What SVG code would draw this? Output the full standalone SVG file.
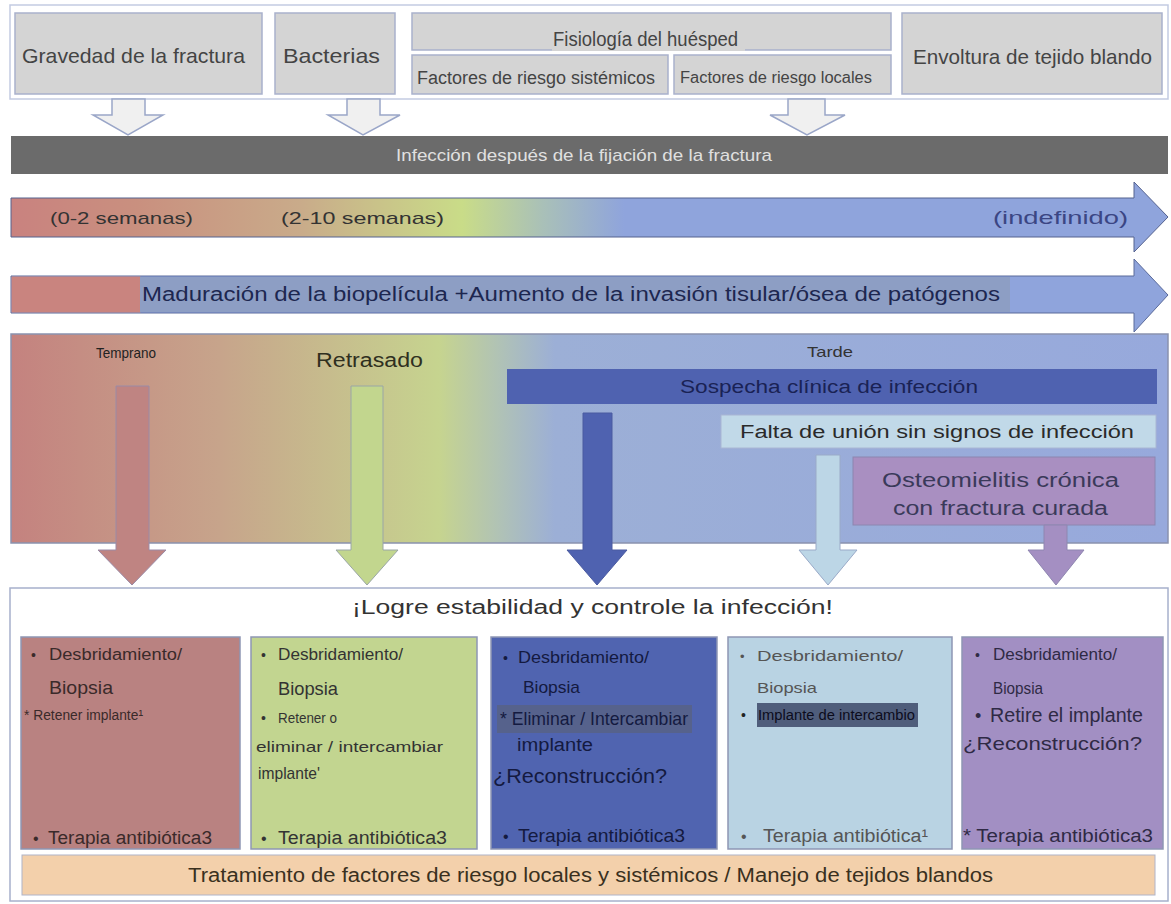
<svg xmlns="http://www.w3.org/2000/svg" width="1171" height="904" viewBox="0 0 1171 904">
<defs>
<linearGradient id="gArrow1" x1="0" y1="0" x2="1" y2="0">
<stop offset="0" stop-color="#c9827f"/>
<stop offset="0.11" stop-color="#c9907f"/>
<stop offset="0.25" stop-color="#c9ab8a"/>
<stop offset="0.39" stop-color="#c9dc88"/>
<stop offset="0.46" stop-color="#a9c0b8"/>
<stop offset="0.53" stop-color="#8fa4dc"/>
<stop offset="1" stop-color="#8fa4dc"/>
</linearGradient>
<linearGradient id="gPanel" x1="0" y1="0" x2="1" y2="0">
<stop offset="0" stop-color="#c4827f"/>
<stop offset="0.18" stop-color="#c7a48b"/>
<stop offset="0.37" stop-color="#c6d48f"/>
<stop offset="0.42" stop-color="#b1c3b4"/>
<stop offset="0.47" stop-color="#9cafd6"/>
<stop offset="1" stop-color="#97a9dc"/>
</linearGradient>
<style>
.gbox{fill:#d4d4d4;stroke:#a9b1cc;stroke-width:1.5}
.wa{fill:#f0f0f0;stroke:#9aa6c8;stroke-width:1.5}
.t{font-family:"Liberation Sans",Arial,sans-serif;fill:#3a3a3a}
.box{stroke:#8e96b4;stroke-width:1.5}
</style>
</defs>

<g id="top-container">
<rect x="10" y="5" width="1158" height="94" fill="#ffffff" stroke="#c3cbe2" stroke-width="1.5"/>
</g>
<g id="node-gravedad">
<rect class="gbox" x="15" y="13" width="247" height="81"/>
<text class="t" x="22" y="63" font-size="21" textLength="223" lengthAdjust="spacingAndGlyphs" style="fill:#444">Gravedad de la fractura</text>
</g>
<g id="node-bacterias">
<rect class="gbox" x="275" y="13" width="120" height="81"/>
<text class="t" x="283" y="63" font-size="21" textLength="97" lengthAdjust="spacingAndGlyphs" style="fill:#444">Bacterias</text>
</g>
<g id="node-fisiologia">
<rect class="gbox" x="412" y="13" width="479" height="37"/>
<rect x="552" y="30" width="193" height="21" fill="#d4d4d4"/>
<text class="t" x="553" y="46" font-size="20" textLength="185" lengthAdjust="spacingAndGlyphs" style="fill:#444">Fisiología del huésped</text>
</g>
<g id="node-sistemicos">
<rect class="gbox" x="412" y="55" width="256" height="39"/>
<text class="t" x="417" y="84" font-size="18" textLength="238" lengthAdjust="spacingAndGlyphs" style="fill:#444">Factores de riesgo sistémicos</text>
</g>
<g id="node-locales">
<rect class="gbox" x="674" y="55" width="217" height="39"/>
<text class="t" x="680" y="83" font-size="16" textLength="192" lengthAdjust="spacingAndGlyphs" style="fill:#444">Factores de riesgo locales</text>
</g>
<g id="node-envoltura">
<rect class="gbox" x="902" y="13" width="260" height="81"/>
<text class="t" x="913" y="64" font-size="21" textLength="239" lengthAdjust="spacingAndGlyphs" style="fill:#444">Envoltura de tejido blando</text>
</g>

<g id="node-infeccion">
<rect x="11" y="136" width="1157" height="38" fill="#6b6b6b"/>
<text class="t" x="396" y="161" font-size="17" textLength="376" lengthAdjust="spacingAndGlyphs" style="fill:#e0e0e0">Infección después de la fijación de la fractura</text>
</g>

<g id="node-timeline">
<path d="M11,198 H1134 V182 L1168,217 L1134,252 V237 H11 Z" fill="url(#gArrow1)" stroke="#55628f" stroke-width="1"/>
<text class="t" x="50" y="224" font-size="17" textLength="143" lengthAdjust="spacingAndGlyphs" style="fill:#333">(0-2 semanas)</text>
<text class="t" x="281" y="224" font-size="17" textLength="163" lengthAdjust="spacingAndGlyphs" style="fill:#333">(2-10 semanas)</text>
<text class="t" x="993" y="224" font-size="18.5" textLength="135" lengthAdjust="spacingAndGlyphs" style="fill:#3b4684">(indefinido)</text>
</g>

<g id="node-maduracion">
<path d="M11,276 H1134 V259 L1168,295 L1134,332 V313 H11 Z" fill="#8fa4dc" stroke="#5a6a9a" stroke-width="1"/>
<rect x="11.5" y="276.5" width="129" height="36" fill="#c9847f"/>
<rect x="140" y="277" width="870" height="35" fill="#8d9ec4"/>
<text class="t" x="142" y="301" font-size="20" textLength="858" lengthAdjust="spacingAndGlyphs" style="fill:#1d2750">Maduración de la biopelícula +Aumento de la invasión tisular/ósea de patógenos</text>
</g>

<g id="node-panel">
<rect x="11" y="334" width="1157" height="209" fill="url(#gPanel)" stroke="#8a92ae" stroke-width="1.5"/>
<text class="t" x="96" y="358" font-size="15" textLength="60" lengthAdjust="spacingAndGlyphs" style="fill:#222">Temprano</text>
<text class="t" x="316" y="367" font-size="20" textLength="107" lengthAdjust="spacingAndGlyphs" style="fill:#2f2f1f">Retrasado</text>
<text class="t" x="807" y="357" font-size="15" textLength="46" lengthAdjust="spacingAndGlyphs" style="fill:#333">Tarde</text>
</g>
<g id="node-sospecha">
<rect x="507" y="369" width="650" height="35" fill="#4f62b0"/>
<text class="t" x="680" y="393" font-size="18" textLength="298" lengthAdjust="spacingAndGlyphs" style="fill:#1a2255">Sospecha clínica de infección</text>
</g>
<g id="node-falta">
<rect x="721" y="415" width="435" height="33" fill="#c1d9e8" stroke="#a9b6d4" stroke-width="1"/>
<text class="t" x="740" y="438" font-size="18" textLength="394" lengthAdjust="spacingAndGlyphs" style="fill:#2a2a2a">Falta de unión sin signos de infección</text>
</g>
<g id="node-osteomielitis">
<rect x="853" y="457" width="302" height="68" fill="#a98fc1" stroke="#8c86b0" stroke-width="1"/>
<text class="t" x="882" y="487" font-size="20" textLength="237" lengthAdjust="spacingAndGlyphs" style="fill:#3a3a5a">Osteomielitis crónica</text>
<text class="t" x="893" y="515" font-size="20" textLength="215" lengthAdjust="spacingAndGlyphs" style="fill:#3a3a5a">con fractura curada</text>
</g>

<g id="bottom-container">
<rect x="10" y="588" width="1158" height="313" fill="#ffffff" stroke="#a7b0cc" stroke-width="1.5"/>
<text class="t" x="352" y="614" font-size="20" textLength="481" lengthAdjust="spacingAndGlyphs" style="fill:#333">¡Logre estabilidad y controle la infección!</text>
</g>

<g id="connectors">
<path class="wa" d="M112,99 H145 V115 H163 L128,135 L93,115 H112 Z"/>
<path class="wa" d="M347,99 H380 V115 H400 L363,135 L328,115 H347 Z"/>
<path class="wa" d="M788,99 H825 V115 H845 L807,135 L770,115 H788 Z"/>
<path d="M116,386 H149 V550 H166 L132,585 L98,550 H116 Z" fill="#bf8482" stroke="#9a8aa6" stroke-width="1"/>
<path d="M351,386 H383 V550 H398 L367,585 L336,550 H351 Z" fill="#c2d68e" stroke="#9aa6a6" stroke-width="1"/>
<path d="M583,413 H612 V550 H627 L597,585 L567,550 H583 Z" fill="#4f62b0" stroke="#4a5aa0" stroke-width="1"/>
<path d="M816,455 H840 V550 H857 L828,585 L799,550 H816 Z" fill="#bcd6e6" stroke="#9aaac8" stroke-width="1"/>
<path d="M1044,525 H1067 V550 H1084 L1056,585 L1028,550 H1044 Z" fill="#a48fc2" stroke="#8e86b0" stroke-width="1"/>
</g>

<g id="node-box1">
<rect class="box" x="21" y="637" width="219" height="212" fill="#b98281"/>
<text class="t" x="31" y="660" font-size="14" style="fill:#3a2a2a">•</text>
<text class="t" x="49" y="660" font-size="16" textLength="133" lengthAdjust="spacingAndGlyphs" style="fill:#3a2a2a">Desbridamiento/</text>
<text class="t" x="49" y="694" font-size="19" textLength="64" lengthAdjust="spacingAndGlyphs" style="fill:#3a2a2a">Biopsia</text>
<text class="t" x="24" y="720" font-size="14" textLength="119" lengthAdjust="spacingAndGlyphs" style="fill:#3a2a2a">* Retener implante¹</text>
<text class="t" x="33" y="844" font-size="16" style="fill:#3a2a2a">•</text>
<text class="t" x="48" y="844" font-size="18" textLength="164" lengthAdjust="spacingAndGlyphs" style="fill:#3a2a2a">Terapia antibiótica3</text>
</g>
<g id="node-box2">
<rect class="box" x="251" y="637" width="226" height="212" fill="#c2d590"/>
<text class="t" x="261" y="660" font-size="14" style="fill:#333">•</text>
<text class="t" x="278" y="660" font-size="16" textLength="125" lengthAdjust="spacingAndGlyphs" style="fill:#333">Desbridamiento/</text>
<text class="t" x="278" y="695" font-size="19" textLength="60" lengthAdjust="spacingAndGlyphs" style="fill:#333">Biopsia</text>
<text class="t" x="261" y="723" font-size="14" style="fill:#333">•</text>
<text class="t" x="278" y="723" font-size="15" textLength="59" lengthAdjust="spacingAndGlyphs" style="fill:#333">Retener o</text>
<text class="t" x="256" y="752" font-size="15" textLength="187" lengthAdjust="spacingAndGlyphs" style="fill:#333">eliminar / intercambiar</text>
<text class="t" x="258" y="779" font-size="17" textLength="62" lengthAdjust="spacingAndGlyphs" style="fill:#333">implante'</text>
<text class="t" x="261" y="844" font-size="16" style="fill:#333">•</text>
<text class="t" x="278" y="844" font-size="18" textLength="169" lengthAdjust="spacingAndGlyphs" style="fill:#333">Terapia antibiótica3</text>
</g>
<g id="node-box3">
<rect class="box" x="491" y="637" width="226" height="212" fill="#5064b0"/>
<rect x="497" y="705" width="195" height="28" fill="#56628c"/>
<text class="t" x="503" y="663" font-size="14" style="fill:#141a40">•</text>
<text class="t" x="518" y="663" font-size="16" textLength="131" lengthAdjust="spacingAndGlyphs" style="fill:#141a40">Desbridamiento/</text>
<text class="t" x="523" y="693" font-size="17" textLength="57" lengthAdjust="spacingAndGlyphs" style="fill:#141a40">Biopsia</text>
<text class="t" x="500" y="725" font-size="19" textLength="188" lengthAdjust="spacingAndGlyphs" style="fill:#141a40">* Eliminar / Intercambiar</text>
<text class="t" x="517" y="751" font-size="18" textLength="76" lengthAdjust="spacingAndGlyphs" style="fill:#141a40">implante</text>
<text class="t" x="493" y="783" font-size="21" textLength="174" lengthAdjust="spacingAndGlyphs" style="fill:#141a40">¿Reconstrucción?</text>
<text class="t" x="503" y="842" font-size="16" style="fill:#141a40">•</text>
<text class="t" x="518" y="842" font-size="19" textLength="167" lengthAdjust="spacingAndGlyphs" style="fill:#141a40">Terapia antibiótica3</text>
</g>
<g id="node-box4">
<rect class="box" x="728" y="637" width="224" height="212" fill="#b9d3e3"/>
<rect x="757" y="703" width="161" height="24" fill="#4f5d7b"/>
<text class="t" x="740" y="661" font-size="13" style="fill:#555">•</text>
<text class="t" x="757" y="661" font-size="14" textLength="146" lengthAdjust="spacingAndGlyphs" style="fill:#555">Desbridamiento/</text>
<text class="t" x="757" y="693" font-size="15" textLength="60" lengthAdjust="spacingAndGlyphs" style="fill:#555">Biopsia</text>
<text class="t" x="741" y="720" font-size="14" style="fill:#222">•</text>
<text class="t" x="758" y="720" font-size="14" textLength="157" lengthAdjust="spacingAndGlyphs" style="fill:#0c0c1c">Implante de intercambio</text>
<text class="t" x="741" y="842" font-size="16" style="fill:#555">•</text>
<text class="t" x="763" y="842" font-size="18" textLength="165" lengthAdjust="spacingAndGlyphs" style="fill:#555">Terapia antibiótica¹</text>
</g>
<g id="node-box5">
<rect class="box" x="962" y="637" width="201" height="212" fill="#a28fc3"/>
<text class="t" x="975" y="660" font-size="14" style="fill:#2f2a45">•</text>
<text class="t" x="993" y="660" font-size="16" textLength="124" lengthAdjust="spacingAndGlyphs" style="fill:#2f2a45">Desbridamiento/</text>
<text class="t" x="993" y="694" font-size="17" textLength="50" lengthAdjust="spacingAndGlyphs" style="fill:#2f2a45">Biopsia</text>
<text class="t" x="975" y="722" font-size="18" style="fill:#2f2a45">•</text>
<text class="t" x="990" y="722" font-size="20" textLength="153" lengthAdjust="spacingAndGlyphs" style="fill:#2f2a45">Retire el implante</text>
<text class="t" x="963" y="750" font-size="19" textLength="179" lengthAdjust="spacingAndGlyphs" style="fill:#2f2a45">¿Reconstrucción?</text>
<text class="t" x="963" y="842" font-size="18" textLength="190" lengthAdjust="spacingAndGlyphs" style="fill:#2f2a45">* Terapia antibiótica3</text>
</g>

<g id="node-tratamiento">
<rect x="22" y="855" width="1133" height="40" fill="#f3d0ab" stroke="#b0b4c8" stroke-width="1"/>
<text class="t" x="188" y="882" font-size="20" textLength="805" lengthAdjust="spacingAndGlyphs" style="fill:#3a3020">Tratamiento de factores de riesgo locales y sistémicos / Manejo de tejidos blandos</text>
</g>
</svg>
